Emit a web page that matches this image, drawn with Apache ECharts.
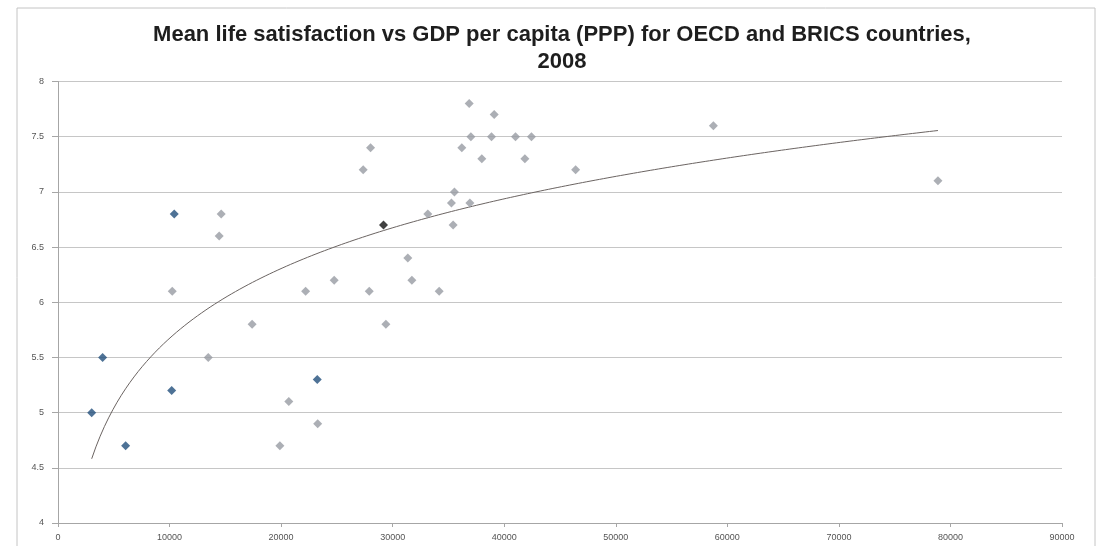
<!DOCTYPE html>
<html>
<head>
<meta charset="utf-8">
<script src="https://cdn.jsdelivr.net/npm/echarts@6/dist/echarts.min.js"></script>
<style>
  html, body { margin: 0; padding: 0; background: #ffffff; }
  #chart { width: 1099px; height: 546px; }
</style>
</head>
<body>
<div id="chart"></div>
<script>
// GDP per capita (PPP, US$) and mean life satisfaction, 2008
const oecdGdp = [14630, 14450, 10240, 22200, 24760, 17400, 13470, 20690, 23280, 19890,
                 36860, 39100, 37010, 38860, 41010, 42440, 28020, 36200, 27360, 37990,
                 41850, 46400, 35540, 35270, 36920, 33150, 35420, 31360, 31720, 27900,
                 34170, 29390, 58750, 78880];
const oecdLs  = [6.8, 6.6, 6.1, 6.1, 6.2, 5.8, 5.5, 5.1, 4.9, 4.7,
                 7.8, 7.7, 7.5, 7.5, 7.5, 7.5, 7.4, 7.4, 7.2, 7.3,
                 7.3, 7.2, 7.0, 6.9, 6.9, 6.8, 6.7, 6.4, 6.2, 6.1,
                 6.1, 5.8, 7.6, 7.1];

const bricsGdp = [3020, 4000, 6060, 10420, 10190, 23240];
const bricsLs  = [5.0, 5.5, 4.7, 6.8, 5.2, 5.3];

const markedGdp = [29180];
const markedLs  = [6.7];

const xTicks = { min: 0, max: 90000, step: 10000 };
const yTicks = { min: 4, max: 8, step: 0.5 };

function pairs(xs, ys) { return xs.map((x, i) => [x, ys[i]]); }

// Logarithmic least-squares trend over all countries: y = a*ln(x) + b
const allX = oecdGdp.concat(bricsGdp, markedGdp);
const allY = oecdLs.concat(bricsLs, markedLs);
const n = allX.length;
let sl = 0, sy = 0, sll = 0, sly = 0;
allX.forEach((x, i) => {
  const l = Math.log(x);
  sl += l; sy += allY[i]; sll += l * l; sly += l * allY[i];
});
const a = (n * sly - sl * sy) / (n * sll - sl * sl);
const b = (sy - a * sl) / n;
const xLo = Math.min(...allX), xHi = Math.max(...allX);
const trend = [];
for (let k = 0; k <= 200; k++) {
  const x = xLo + (xHi - xLo) * k / 200;
  trend.push([x, a * Math.log(x) + b]);
}

const chart = echarts.init(document.getElementById('chart'));
chart.setOption({
  backgroundColor: '#ffffff',
  animation: false,
  title: {
    text: 'Mean life satisfaction vs GDP per capita (PPP) for OECD and BRICS countries,\n2008',
    left: 557,
    textAlign: 'center',
    top: 16,
    textStyle: {
      fontFamily: 'Liberation Sans',
      fontSize: 22,
      fontWeight: 'bold',
      color: '#1e1e1e',
      lineHeight: 27
    }
  },
  graphic: [{
    type: 'rect',
    shape: { x: 17, y: 8, width: 1078, height: 545 },
    style: { fill: 'none', stroke: '#c4c4c4', lineWidth: 1 },
    silent: true
  }],
  grid: { left: 58, right: 37, top: 81.5, bottom: 23 },
  xAxis: {
    type: 'value',
    min: xTicks.min, max: xTicks.max, interval: xTicks.step,
    axisLine: { show: true, lineStyle: { color: '#a6a6a6', width: 1 } },
    axisTick: { show: true, length: 4, lineStyle: { color: '#a6a6a6' } },
    axisLabel: {
      fontSize: 9, color: '#555555', margin: 10, fontFamily: 'Liberation Sans',
      formatter: v => String(v)
    },
    splitLine: { show: false }
  },
  yAxis: {
    type: 'value',
    min: yTicks.min, max: yTicks.max, interval: yTicks.step,
    axisLine: { show: true, lineStyle: { color: '#a6a6a6', width: 1 } },
    axisTick: { show: true, length: 6, lineStyle: { color: '#a6a6a6' } },
    axisLabel: { fontSize: 9, color: '#555555', margin: 14, fontFamily: 'Liberation Sans' },
    splitLine: { show: true, lineStyle: { color: '#c6c6c6', width: 1 } }
  },
  series: [
    {
      name: 'OECD',
      type: 'scatter',
      symbol: 'diamond',
      symbolSize: 9,
      itemStyle: { color: '#979ba2' },
      data: pairs(oecdGdp, oecdLs),
      z: 3
    },
    {
      name: 'BRICS',
      type: 'scatter',
      symbol: 'diamond',
      symbolSize: 9,
      itemStyle: { color: '#224f7c' },
      data: pairs(bricsGdp, bricsLs),
      z: 3
    },
    {
      name: 'Marked',
      type: 'scatter',
      symbol: 'diamond',
      symbolSize: 9,
      itemStyle: { color: '#111111' },
      data: pairs(markedGdp, markedLs),
      z: 4
    },
    {
      name: 'Log trend',
      type: 'line',
      showSymbol: false,
      smooth: false,
      lineStyle: { color: '#6b6462', width: 1 },
      data: trend,
      z: 2
    }
  ]
});
</script>
</body>
</html>
